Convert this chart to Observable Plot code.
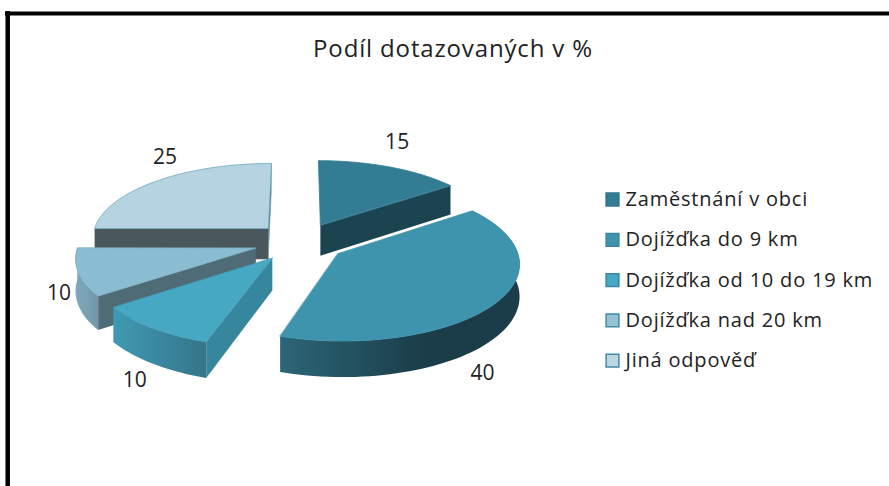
<!DOCTYPE html>
<html><head><meta charset="utf-8">
<script src="https://cdn.jsdelivr.net/npm/d3@7"></script>
<script src="https://cdn.jsdelivr.net/npm/@observablehq/plot@0.6"></script>
<style>html,body{margin:0;padding:0;background:#fff}svg{display:block}</style>
</head><body><div id="chart"></div>
<script>
// Data
const title = "Podíl dotazovaných v %";
const categories = ["Zaměstnání v obci","Dojížďka do 9 km","Dojížďka od 10 do 19 km","Dojížďka nad 20 km","Jiná odpověď"];
const values = [15,40,10,10,25];
// Colours
const topColors = ["#337d94","#3e93ad","#47a8c4","#8abdd1","#b5d3e0"];
const edgeColors = ["#337d94","#3e93ad","#42a0bb","#7cb0c5","#6fa8bc"];
const sideColors = ["#1c4350","#1c4350","#36869e","#4f6b76","#4a585e"];
const rimFrom = ["#1c4350","#2c6678","#3f9ab3","#7fa8bb","#7fa8bb"];
const rimTo = ["#1c4350","#1a3d49","#357589","#7297aa","#7297aa"];
const legendFill = ["#337d94","#3e93ad","#47a8c4","#96c2d5","#bcd7e3"];
const legendStroke = ["#2f7489","#38869f","#38869f","#3f8ba3","#3f8ba3"];
// Layout of the projected pie
const pie3d = {cx:299.5, cy:241.5, rx:177, ry:75, k:0.11, depth:31.5, explode:0.26};
const labelNudge = [[7,-25],[-14,71],[-17.5,52],[-19.5,21],[8.5,-24]];
const rad = Math.PI/180;

const total = d3.sum(values);
let acc = 0;
const slices = values.map((v,i)=>{
  const a0 = acc/total*360; acc += v; const a1 = acc/total*360;
  return {i, v, a0, a1, mid:(a0+a1)/2};
});
function project(s, a, r, down=0){
  const {cx,cy,rx,ry,k,depth,explode} = pie3d;
  const X = explode*Math.sin(s.mid*rad) + r*Math.sin(a*rad);
  const Y = -explode*Math.cos(s.mid*rad) - r*Math.cos(a*rad);
  const p = 1/(1-k*Y);
  return {x: cx+rx*X*p, y: cy+ry*Y*p+down*depth*p};
}
function arc(s, a0, a1, down=0){
  const n = Math.max(2, Math.ceil(Math.abs(a1-a0)/2));
  return d3.range(n+1).map(j=>project(s, a0+(a1-a0)*j/n, 1, down));
}
const topFace = s => [project(s,0,0), ...arc(s,s.a0,s.a1)];
const rimFace = (s,a0,a1) => [...arc(s,a0,a1), ...arc(s,a1,a0,1)];
const radialFace = (s,a) => [project(s,0,0), project(s,a,1), project(s,a,1,1), project(s,0,0,1)];

const poly = (pts, fill, stroke, sw=0.8) =>
  Plot.line(pts, {x:"x", y:"y", curve:"linear-closed", fill, stroke: stroke ?? "none", strokeWidth:sw});

const defs = () => {
  const d = d3.create("svg:defs");
  slices.forEach(s=>{
    if (s.mid < 90) return;
    const pts = rimFace(s, Math.max(s.a0,90), Math.min(s.a1,270));
    const g = d.append("linearGradient").attr("id","rim"+s.i).attr("gradientUnits","userSpaceOnUse")
      .attr("x1",d3.min(pts,p=>p.x)).attr("x2",d3.max(pts,p=>p.x)).attr("y1",0).attr("y2",0);
    g.append("stop").attr("offset",0).attr("stop-color",rimFrom[s.i]);
    g.append("stop").attr("offset",s.i===1?0.6:1).attr("stop-color",rimTo[s.i]);
  });
  return d.node();
};

const S = slices;
const faces = [
  // Jiná odpověď (back left)
  poly(radialFace(S[4],360), sideColors[4], edgeColors[4]),
  poly(radialFace(S[4],270), sideColors[4]),
  poly(topFace(S[4]), topColors[4], edgeColors[4]),
  // Zaměstnání v obci (back right)
  poly(radialFace(S[0],S[0].a1), sideColors[0]),
  poly(topFace(S[0]), topColors[0], edgeColors[0]),
  // Dojížďka nad 20 km
  poly(rimFace(S[3],S[3].a0,S[3].a1), "url(#rim3)"),
  poly(radialFace(S[3],S[3].a0), sideColors[3]),
  poly(topFace(S[3]), topColors[3], edgeColors[3]),
  // Dojížďka do 9 km
  poly(rimFace(S[1],S[1].a0,S[1].a1), "url(#rim1)"),
  poly(topFace(S[1]), topColors[1], edgeColors[1]),
  // Dojížďka od 10 do 19 km
  poly(rimFace(S[2],S[2].a0,S[2].a1), "url(#rim2)"),
  poly(radialFace(S[2],S[2].a0), sideColors[2]),
  poly(topFace(S[2]), topColors[2], edgeColors[2])
];

const labels = slices.map(s=>{
  const p = project(s,s.mid,1);
  return {x:p.x+labelNudge[s.i][0], y:p.y+labelNudge[s.i][1], text:String(s.v)};
});
const legendX = 612, legendTextX = 625, legendY0 = 199, legendStep = 40.3;
const legend = categories.map((c,i)=>({c,i,y:legendY0+i*legendStep}));
const font = "Open Sans";
const spaced = ls => (index, scales, values, dims, ctx, next) => {
  const g = next(index, scales, values, dims, ctx);
  g.style.letterSpacing = ls;
  return g;
};

const chart = Plot.plot({
  width:889, height:486, margin:0,
  x:{domain:[0,889], range:[0,889], axis:null},
  y:{domain:[0,486], range:[0,486], axis:null},
  style:{fontFamily:font, background:"#fff"},
  marks:[
    defs,
    Plot.ruleY([13],{x1:5,x2:889,stroke:"#000",strokeWidth:4}),
    Plot.ruleX([7.2],{y1:11,y2:486,stroke:"#000",strokeWidth:4.5}),
    Plot.text([title],{x:()=>452.5,y:()=>49,text:d=>d,fontSize:24,fill:"#222",render:spaced("0.85px")}),
    ...faces,
    Plot.text(labels,{x:"x",y:"y",text:"text",fontSize:21,fill:"#222"}),
    Plot.dot(legend,{x:()=>legendX,y:"y",symbol:"square",r:7.2,fill:d=>legendFill[d.i],stroke:d=>legendStroke[d.i],strokeWidth:1.5}),
    Plot.text(legend,{x:()=>legendTextX,y:"y",text:"c",textAnchor:"start",fontSize:20,fill:"#222",render:spaced("0.8px")})
  ]
});
document.getElementById("chart").append(chart);
</script></body></html>
